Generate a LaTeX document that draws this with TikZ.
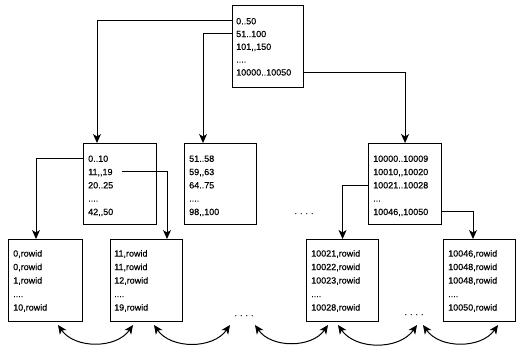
\documentclass[tikz,border=0pt]{standalone}
\usepackage{fontspec}
\setmainfont{Liberation Sans}
\newfontfamily\labfont[FakeBold=0.35]{Liberation Sans}
\usetikzlibrary{arrows.meta,calc}
\tikzset{
  box/.style={draw, line width=1.1pt, rectangle, inner sep=0pt, anchor=north west},
  tl/.style={inner sep=0pt, anchor=base west, text height=6.6pt, text depth=0pt, font=\labfont\fontsize{9}{11}\selectfont},
  dots/.style={inner sep=0pt, anchor=base, font=\labfont\fontsize{9}{11}\selectfont},
  conn/.style={line width=1pt, -{Stealth[length=9pt,width=8pt,inset=2.5pt]}},
  curv/.style={line width=1pt, {Stealth[length=9pt,width=8pt,inset=2.5pt]}-{Stealth[length=9pt,width=8pt,inset=2.5pt]}}
}
\newcommand{\tline}[4]{\node[tl] (#1) at (#2,#3) {#4};}
\begin{document}
\begin{tikzpicture}[x=1pt,y=-1pt]
\useasboundingbox (0,0) rectangle (523,353);
% root
\node[box, minimum width=71pt, minimum height=82pt] (root) at (232,5) {};
\tline{r1}{236}{24.3}{0..50}
\tline{r2}{236}{37.1}{51..100}
\tline{r3}{236}{49.9}{101,,150}
\tline{r4}{236}{62.7}{....}
\tline{r5}{236}{75.5}{10000..10050}
% level 2
\node[box, minimum width=73pt, minimum height=81pt] (b1) at (83,143) {};
\tline{b11}{88}{161.8}{0..10}
\tline{b12}{88}{175.1}{11,,19}
\tline{b13}{88}{188.4}{20..25}
\tline{b14}{88}{201.7}{....}
\tline{b15}{88}{215}{42,,50}
\node[box, minimum width=72pt, minimum height=81pt] (b2) at (184,143) {};
\tline{b21}{189}{161.8}{51..58}
\tline{b22}{189}{175.1}{59,,63}
\tline{b23}{189}{188.4}{64..75}
\tline{b24}{189}{201.7}{....}
\tline{b25}{189}{215}{98,,100}
\node[box, minimum width=73pt, minimum height=81pt] (b3) at (368,143) {};
\tline{b31}{373}{161.8}{10000..10009}
\tline{b32}{373}{175.1}{10010,,10020}
\tline{b33}{373}{188.4}{10021..10028}
\tline{b34}{373}{201.7}{...}
\tline{b35}{373}{215}{10046,,10050}
% leaves
\node[box, minimum width=74pt, minimum height=82pt] (L1) at (8,239) {};
\tline{l11}{13}{256.6}{0,rowid}
\tline{l12}{13}{270.1}{0,rowid}
\tline{l13}{13}{283.6}{1,rowid}
\tline{l14}{13}{297.1}{....}
\tline{l15}{13}{310.6}{10,rowid}
\node[box, minimum width=72pt, minimum height=82pt] (L2) at (110,239) {};
\tline{l21}{114}{256.6}{11,rowid}
\tline{l22}{114}{270.1}{11,rowid}
\tline{l23}{114}{283.6}{12,rowid}
\tline{l24}{114}{297.1}{....}
\tline{l25}{114}{310.6}{19,rowid}
\node[box, minimum width=72pt, minimum height=82pt] (L3) at (306,239) {};
\tline{l31}{311}{256.6}{10021,rowid}
\tline{l32}{311}{270.1}{10022,rowid}
\tline{l33}{311}{283.6}{10023,rowid}
\tline{l34}{311}{297.1}{....}
\tline{l35}{311}{310.6}{10028,rowid}
\node[box, minimum width=72pt, minimum height=82pt] (L4) at (443,239) {};
\tline{l41}{448}{256.6}{10046,rowid}
\tline{l42}{448}{270.1}{10048,rowid}
\tline{l43}{448}{283.6}{10048,rowid}
\tline{l44}{448}{297.1}{....}
\tline{l45}{448}{310.6}{10050,rowid}
% dots
\node[dots] (d1) at (304,214) {.\hspace{3pt}.\hspace{3pt}.\hspace{3pt}.};
\node[dots] (d2) at (244,316) {.\hspace{3pt}.\hspace{3pt}.\hspace{3pt}.};
\node[dots] (d3) at (414,315) {.\hspace{3pt}.\hspace{3pt}.\hspace{3pt}.};
% connectors
\draw[conn] (root.west |- r1) -| ($(b1.north west)+(14,0)$);
\draw[conn] (root.west |- r2) -| ($(b2.north west)+(19,0)$);
\draw[conn] (root.east |- r5) -| (b3.north);
\draw[conn] (b1.west |- b11) -| ($(L1.north west)+(28,0)$);
\draw[conn] ([xshift=9pt]b12.east) -| ($(L2.north west)+(57,0)$);
\draw[conn] (b3.west |- b33) -| (L3.north);
\draw[conn] (b3.east |- b35) -| ($(L4.north west)+(30,0)$);
% sibling links
\coordinate (c1a) at (58,325); \coordinate (c1b) at (133,325);
\coordinate (c2a) at (154,325); \coordinate (c2b) at (230,325);
\coordinate (c3a) at (255,325); \coordinate (c3b) at (328,325);
\coordinate (c4a) at (338,325); \coordinate (c4b) at (417,325);
\coordinate (c5a) at (423,325); \coordinate (c5b) at (498,325);
\draw[curv] (c1a) to[bend right=55] (c1b);
\draw[curv] (c2a) to[bend right=55] (c2b);
\draw[curv] (c3a) to[bend right=55] (c3b);
\draw[curv] (c4a) to[bend right=55] (c4b);
\draw[curv] (c5a) to[bend right=55] (c5b);
\end{tikzpicture}
\end{document}
